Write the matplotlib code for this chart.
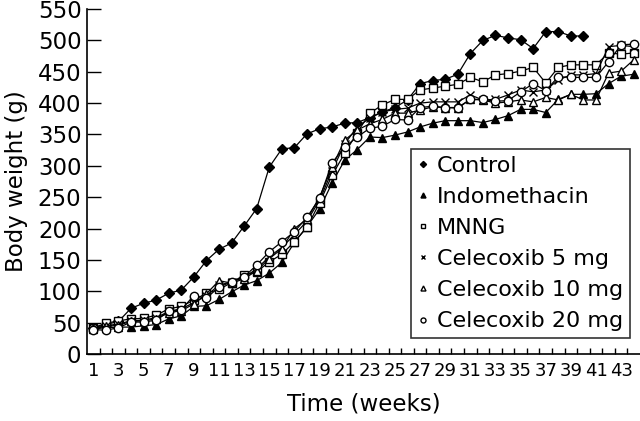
import numpy as np
import matplotlib
matplotlib.use("Agg")
import matplotlib.pyplot as plt
from matplotlib.ticker import FixedLocator

plt.rcParams['font.family'] = ['DejaVu Sans']

weeks = list(range(1, 45))

# body weight (g) per week
control = [42, 47, 52, 73, 81, 86, 97, 102, 123, 149, 167, 177, 204, 232, 298, 327,
           329, 351, 359, 362, 368, 369, 377, 386, 393, 405, 431, 436, 438, 446, 479,
           500, 508, 504, 501, 487, 514, 514, 507, 507]
indomethacin = [40, 42, 43, 43, 45, 47, 56, 61, 76, 77, 87, 99, 110, 117, 129, 146,
                178, 203, 231, 273, 309, 326, 346, 345, 349, 354, 362, 368, 372, 372,
                372, 369, 374, 380, 390, 390, 385, 406, 414, 414, 415, 431, 443, 446]
mnng = [42, 49, 53, 56, 57, 62, 72, 76, 86, 97, 103, 114, 126, 131, 147, 159, 179,
        202, 241, 285, 320, 353, 384, 397, 406, 406, 421, 424, 427, 430, 441, 434,
        445, 447, 451, 457, 432, 457, 461, 461, 461, 480, 478, 480]
celecoxib5 = [41, 45, 48, 53, 54, 58, 68, 72, 82, 93, 110, 115, 122, 136, 155, 170,
              190, 212, 245, 292, 335, 362, 376, 386, 390, 392, 400, 402, 402, 402,
              413, 405, 406, 413, 421, 418, 421, 437, 445, 445, 447, 490, 492, 490]
celecoxib10 = [41, 44, 46, 52, 53, 56, 66, 69, 80, 96, 117, 113, 120, 133, 152, 168,
               200, 215, 250, 298, 341, 357, 367, 374, 384, 384, 389, 394, 393, 393,
               406, 405, 400, 402, 405, 402, 409, 405, 414, 405, 405, 448, 451, 469]
celecoxib20 = [39, 38, 42, 51, 51, 54, 68, 71, 93, 89, 107, 115, 123, 142, 163, 179,
               195, 218, 248, 305, 330, 346, 360, 363, 374, 373, 393, 395, 393, 392,
               406, 406, 403, 404, 418, 431, 420, 442, 441, 441, 441, 466, 493, 494]

series = [
    ("Control", control, dict(marker='D', ms=5.2, mfc='black')),
    ("Indomethacin", indomethacin, dict(marker='^', ms=6, mfc='black')),
    ("MNNG", mnng, dict(marker='s', ms=5.5, mfc='white')),
    ("Celecoxib 5 mg", celecoxib5, dict(marker='x', ms=5.5, mew=1)),
    ("Celecoxib 10 mg", celecoxib10, dict(marker='^', ms=6, mfc='white')),
    ("Celecoxib 20 mg", celecoxib20, dict(marker='o', ms=6, mfc='white')),
]

fig = plt.figure(figsize=(6.4, 4.21), dpi=100)
ax = fig.add_axes([0.136, 0.159, 0.864, 0.8196])

for name, vals, style in series:
    ax.plot(weeks[:len(vals)], vals, color='black', lw=0.9, mec='black',
            label=name, **style)

ax.set_xlim(0.5, 44.5)
ax.set_ylim(0, 550)
ax.set_yticks(range(0, 551, 50))
ax.set_xticks(range(1, 44, 2))
ax.xaxis.set_minor_locator(FixedLocator(np.arange(1.5, 44.5, 1)))
ax.tick_params(axis='y', direction='in', length=10, width=1, labelsize=16.5, pad=4)
ax.tick_params(axis='x', which='major', length=0, labelsize=13, pad=6)
ax.tick_params(axis='x', which='minor', direction='in', length=4.5, width=1)

for s in ['top', 'right']:
    ax.spines[s].set_visible(False)
for s in ['left', 'bottom']:
    ax.spines[s].set_linewidth(1.2)

ax.set_ylabel("Body weight (g)", fontsize=16.5, labelpad=7)
ax.set_xlabel("Time (weeks)", fontsize=16.5, labelpad=9)

leg = ax.legend(loc='upper left', bbox_to_anchor=(0.585, 0.594), fontsize=16,
                frameon=True, fancybox=False, edgecolor='black', markerscale=0.6,
                handlelength=0.5, handletextpad=0.4, labelspacing=0.5,
                borderpad=0.3, borderaxespad=0)
for h in leg.get_lines():
    h.set_linestyle('none')
leg.get_frame().set_linewidth(1.2)

fig.savefig("out.png", dpi=100)
